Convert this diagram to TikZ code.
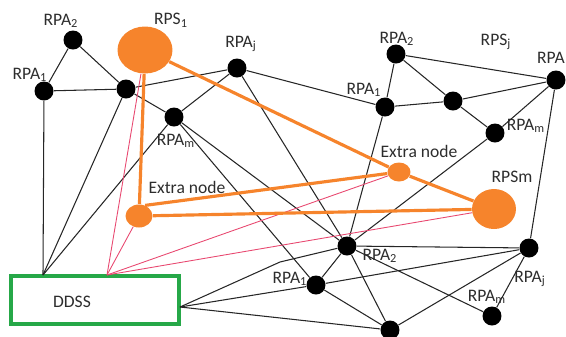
\documentclass[tikz,border=0pt]{standalone}
\usepackage{fontspec}
\setmainfont{Carlito}
\usetikzlibrary{shapes.geometric}
\definecolor{rpsorange}{RGB}{246,132,44}
\definecolor{ddssgreen}{RGB}{38,168,72}
\definecolor{linkred}{RGB}{232,72,112}
\definecolor{labelgray}{RGB}{45,45,45}

\begin{document}
\begin{tikzpicture}[x=0.02cm, y=-0.02cm,
    rpa/.style={circle, fill=black, minimum size=0.38cm, inner sep=0pt},
    rps/.style={ellipse, fill=rpsorange, inner sep=0pt},
    lbl/.style={text=labelgray, font=\fontsize{10}{12}\selectfont, inner sep=0pt},
    link/.style={black!85, line width=0.6pt},
    olink/.style={rpsorange, line width=1.8pt},
    rlink/.style={linkred, line width=0.5pt}]
      \useasboundingbox (0,0) rectangle (566,336);

      % DDSS box
      \node[draw=ddssgreen, line width=2.4pt, minimum width=3.36cm, minimum height=0.96cm] (ddss) at (95,300) {};
      \node[lbl] (ddsslbl) at (72,302) {DDSS};
      \coordinate (dA) at (43,275);
      \coordinate (dB) at (107,275);
      \coordinate (dC) at (180,307);
      \coordinate (kink) at (280,262);

      % left group
      \node[rpa] (a2) at (73,40) {};
      \node[rpa] (a1) at (44,91) {};
      \node[rpa] (b) at (126,89) {};
      \node[rpa] (am) at (174,117) {};
      \node[rpa] (aj) at (237,68) {};
      \node[lbl] (a2lbl) at (61,21) {RPA\textsubscript{2}};
      \node[lbl] (a1lbl) at (30,75) {RPA\textsubscript{1}};
      \node[lbl] (amlbl) at (176,141) {RPA\textsubscript{m}};
      \node[lbl] (ajlbl) at (241,44) {RPA\textsubscript{j}};

      % right group
      \node[rpa] (r2) at (396,54) {};
      \node[rpa] (r1) at (385,107) {};
      \node[rpa] (rc) at (453,101) {};
      \node[rpa] (rm) at (495,133) {};
      \node[rpa] (ra) at (556,80) {};
      \node[lbl] (r2lbl) at (397,39) {RPA\textsubscript{2}};
      \node[lbl] (r1lbl) at (364,90) {RPA\textsubscript{1}};
      \node[lbl] (rmlbl) at (526,126) {RPA\textsubscript{m}};
      \node[lbl, anchor=east] (ralbl) at (565,58) {RPA};
      \node[lbl] (rpsjlbl) at (496,42) {RPS\textsubscript{j}};

      % bottom group
      \node[rpa] (b2) at (347,246) {};
      \node[rpa] (b1) at (316,285) {};
      \node[rpa] (bj) at (529,248) {};
      \node[rpa] (bm) at (492,316) {};
      \node[rpa] (bb) at (390,330) {};
      \node[lbl] (b2lbl) at (380,256) {RPA\textsubscript{2}};
      \node[lbl] (b1lbl) at (290,279) {RPA\textsubscript{1}};
      \node[lbl] (bjlbl) at (530,279) {RPA\textsubscript{j}};
      \node[lbl] (bmlbl) at (487,297) {RPA\textsubscript{m}};

      % RPS and extra nodes
      \node[rps, minimum width=1.1cm, minimum height=0.94cm] (rps1) at (145,50) {};
      \node[rps, minimum width=0.88cm, minimum height=0.8cm] (rpsm) at (494,209) {};
      \node[rps, minimum width=0.46cm, minimum height=0.38cm] (exr) at (399,172) {};
      \node[rps, minimum width=0.54cm, minimum height=0.46cm] (exl) at (139,216) {};
      \node[lbl] (rps1lbl) at (171,20) {RPS\textsubscript{1}};
      \node[lbl] (rpsmlbl) at (512,177) {RPSm};
      \node[lbl] (exrlbl) at (419,151) {Extra node};
      \node[lbl] (exllbl) at (187,187) {Extra node};

      % links of the left group
      \draw[link] (a2) -- (a1);
      \draw[link] (a2) -- (b);
      \draw[link] (a1) -- (b);
      \draw[link] (a1) -- (dA);
      \draw[link] (b) -- (dA);
      \draw[link] (am) -- (dA);
      \draw[link] (b) -- (aj);
      \draw[link] (b) -- (am);
      \draw[link] (am) -- (aj);
      \draw[link] (aj) -- (r1);
      \draw[link] (aj) -- (b2);
      \draw[link] (am) -- (b1);
      \draw[link] (am) -- (b2);

      % links of the right group
      \draw[link] (r2) -- (r1);
      \draw[link] (r2) -- (rc);
      \draw[link] (r2) -- (ra);
      \draw[link] (r1) -- (rc);
      \draw[link] (rc) -- (ra);
      \draw[link] (rc) -- (rm);
      \draw[link] (rm) -- (ra);
      \draw[link] (r1) -- (b2);
      \draw[link] (rm) -- (b2);
      \draw[link] (ra) -- (bj);

      % links of the bottom group
      \draw[link] (dC) -- (kink) -- (b2);
      \draw[link] (dC) -- (b1);
      \draw[link] (dC) -- (bb);
      \draw[link] (b1) -- (b2);
      \draw[link] (b1) -- (bb);
      \draw[link] (b1) -- (bj);
      \draw[link] (b2) -- (bj);
      \draw[link] (b2) -- (bm);
      \draw[link] (b2) -- (bb);
      \draw[link] (bb) -- (bj);
      \draw[link] (bj) -- (bm);

      % DDSS to the RPS
      \draw[rlink] (dB) -- (rps1);
      \draw[rlink] (dB) -- (exl);
      \draw[rlink] (dB) -- (exr);
      \draw[rlink] (dB) -- (rpsm);

      % RPS links
      \draw[olink] (rps1) -- (exr);
      \draw[olink] (exr) -- (rpsm);
      \draw[olink] (rps1) -- (exl);
      \draw[olink] (exl.60) -- (exr);
      \draw[olink] (exl) -- (rpsm);
\end{tikzpicture}
\end{document}
